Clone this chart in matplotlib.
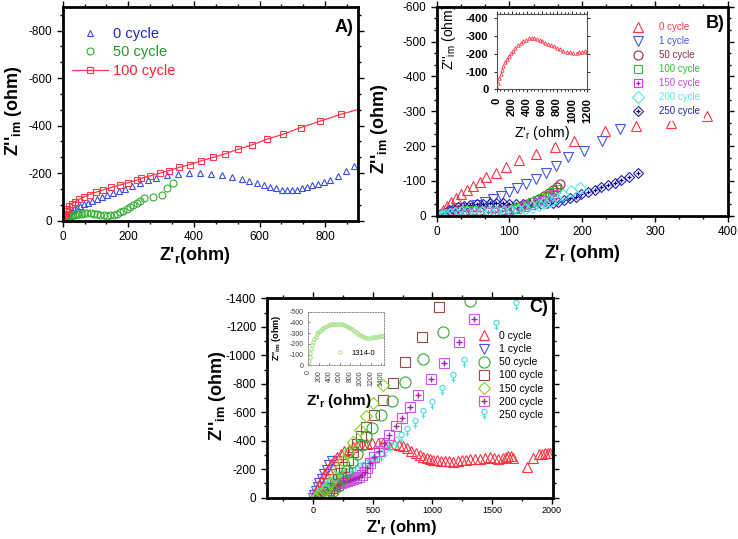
import matplotlib
matplotlib.use('Agg')
import matplotlib.pyplot as plt
from matplotlib.ticker import AutoMinorLocator, MultipleLocator
from matplotlib.path import Path

plt.rcParams['font.family'] = ['Liberation Sans', 'DejaVu Sans']
plt.rcParams['mathtext.fontset'] = 'custom'
plt.rcParams['mathtext.rm'] = 'Liberation Sans'
plt.rcParams['mathtext.bf'] = 'Liberation Sans:bold'
plt.rcParams['mathtext.it'] = 'Liberation Sans:italic'
plt.rcParams['axes.unicode_minus'] = False

# ---------------- panel A data ----------------
a_x0 = [2, 5, 9, 14, 20, 27, 35, 44, 54, 65, 77, 90, 104, 119, 135, 152, 170, 190, 212, 236,
        260, 284, 318, 350, 384, 417, 451, 485, 517, 545, 569, 592, 613, 632, 650, 668, 684, 699,
        713, 728, 744, 760, 777, 795, 816, 838, 862, 888]
a_y0 = [0, -8, -16, -24, -32, -40, -48, -55, -62, -69, -76, -84, -92, -100, -108, -116, -124, -134,
        -146, -158, -170, -181, -193, -197, -200, -201, -198, -191, -183, -175, -166, -158, -151,
        -142, -137, -131, -128, -128, -131, -137, -142, -149, -156, -163, -172, -186, -208, -231]
a_x50 = [8, 12, 16, 20, 25, 30, 36, 42, 50, 58, 66, 75, 85, 95, 105, 115, 125, 135, 145, 155,
         165, 175, 185, 195, 205, 215, 225, 235, 248, 276, 304, 317, 335]
a_y50 = [0, -5, -10, -14, -18, -22, -25, -27, -29, -30, -31, -31, -31, -30, -28, -25, -22, -21,
         -22, -25, -30, -36, -42, -49, -57, -65, -73, -82, -97, -101, -108, -136, -157]
a_x100 = [0, 2, 4, 6, 9, 13, 19, 27, 37, 50, 65, 82, 102, 124, 148, 174, 200, 225, 240, 267,
          296, 324, 354, 387, 420, 458, 494, 535, 577, 623, 672, 726, 785, 847, 910]
a_y100 = [0, -10, -20, -30, -40, -50, -60, -70, -80, -90, -100, -110, -120, -130, -140, -150,
          -160, -170, -179, -189, -200, -211, -224, -236, -251, -266, -281, -301, -319, -343,
          -364, -392, -419, -447, -472]

# ---------------- panel B data ----------------
b_x0 = [0, 4, 9, 14, 20, 27, 34, 42, 50, 59, 68, 81, 95, 113, 137, 163, 189, 232, 274, 322, 371]
b_y0 = [0, -5, -15, -27, -38, -50, -62, -74, -85, -98, -110, -123, -139, -160, -177, -198, -215,
        -244, -258, -267, -286]
b_x1 = [3, 6, 11, 20, 32, 43, 55, 66, 78, 89, 100, 111, 123, 137, 150, 164, 180, 202, 227, 252]
b_y1 = [0, -1, -3, -7, -14, -21, -30, -38, -47, -57, -67, -79, -91, -105, -122, -143, -168, -186,
        -215, -248]
b_x50 = [6, 10, 15, 22, 30, 40, 50, 60, 70, 80, 90, 100, 108, 116, 124, 132, 140, 147, 154, 160,
         165, 169]
b_y50 = [-2, -6, -10, -13, -15, -16, -16, -15, -14, -14, -15, -18, -22, -27, -33, -40, -48, -56,
         -65, -74, -83, -91]
b_x100 = [6, 10, 15, 22, 30, 40, 50, 60, 70, 80, 90, 100, 108, 116, 124, 131, 138, 145, 152, 158, 164]
b_y100 = [-1, -5, -9, -12, -14, -15, -15, -14, -13, -13, -14, -17, -21, -26, -32, -38, -45, -52,
          -60, -68, -77]
b_x150 = [6, 10, 15, 22, 30, 40, 50, 60, 70, 80, 90, 100, 110, 120, 129, 138, 146, 154, 161]
b_y150 = [0, -4, -8, -11, -13, -14, -14, -13, -12, -12, -13, -16, -20, -25, -31, -38, -45, -53, -61]
b_x200 = [4, 7, 12, 18, 25, 33, 42, 52, 62, 72, 82, 92, 102, 112, 122, 131, 140, 148, 156, 164,
          174, 185, 197]
b_y200 = [4, 2, -2, -6, -9, -11, -12, -12, -11, -10, -10, -11, -13, -16, -20, -25, -30, -36, -42,
          -50, -60, -70, -79]
b_x250 = [8, 12, 17, 23, 30, 38, 46, 55, 64, 73, 82, 91, 100, 109, 118, 127, 136, 144, 152, 160,
          167, 175, 183, 191, 199, 208, 217, 226, 236, 245, 254, 264, 277]
b_y250 = [-3, -9, -15, -20, -25, -29, -32, -34, -35, -36, -36, -36, -35, -35, -34, -34, -34, -35,
          -36, -37, -40, -45, -50, -55, -61, -67, -74, -81, -88, -95, -102, -112, -123]
# inset of B
bi_x = [0, 9, 22, 35, 53, 71, 88, 110, 132, 159, 185, 212, 247, 283, 318, 353, 389, 424, 464, 499,
        534, 570, 605, 640, 680, 720, 759, 799, 839, 883, 927, 971, 1015, 1060, 1095, 1130, 1166, 1192]
bi_y = [0, -6, -34, -62, -87, -109, -132, -153, -172, -189, -204, -219, -234, -249, -264, -274,
        -281, -287, -289, -287, -283, -277, -272, -264, -257, -249, -242, -234, -226, -219, -213,
        -209, -206, -206, -209, -213, -217, -213]

# ---------------- panel C data ----------------
c_x0 = [0, 8, 18, 30, 45, 62, 80, 100, 122, 146, 172, 200, 230, 262, 296, 332, 370, 410, 452, 496,
        540, 585, 630, 675, 716, 750, 784, 824, 862, 893, 923, 951, 979, 1007, 1035, 1070, 1105,
        1140, 1175, 1210, 1245, 1280, 1315, 1357, 1399, 1441, 1483, 1518, 1553, 1595, 1620, 1637,
        1655, 1672, 1791, 1847, 1897, 1922, 1945, 1967, 1987]
c_y0 = [0, -15, -35, -58, -85, -115, -145, -175, -205, -235, -262, -287, -308, -327, -343, -356,
        -367, -375, -380, -383, -385, -383, -378, -374, -370, -362, -351, -331, -312, -300, -288,
        -278, -269, -267, -265, -261, -258, -255, -253, -255, -265, -263, -269, -272, -274, -280,
        -288, -281, -274, -277, -288, -290, -292, -280, -218, -276, -306, -310, -311, -313, -316]
c_x1 = [0, 10, 22, 36, 52, 70, 90, 112, 135, 158]
c_y1 = [0, -20, -45, -72, -102, -133, -165, -197, -228, -255]
c_x50 = [45, 85, 125, 165, 205, 245, 285, 325, 365, 405, 445, 492, 566, 661, 772, 918, 1091, 1312]
c_y50 = [0, -3, -15, -45, -85, -135, -190, -250, -310, -370, -430, -492, -578, -681, -811, -972,
         -1160, -1380]
c_x100 = [30, 55, 80, 105, 130, 155, 180, 205, 232, 262, 295, 330, 365, 400, 443, 506, 582, 665,
          771, 913, 1057]
c_y100 = [0, -2, -8, -20, -40, -65, -95, -130, -170, -215, -265, -320, -375, -430, -495, -580,
          -686, -803, -955, -1130, -1341]
c_x150 = [15, 40, 70, 105, 140, 175, 212, 252, 294, 337, 392, 444, 498, 582]
c_y150 = [0, -10, -30, -60, -100, -145, -200, -260, -324, -394, -475, -571, -666, -794]
c_x200 = [10, 30, 55, 80, 105, 130, 155, 180, 205, 230, 255, 280, 305, 330, 355, 380, 405, 430,
          455, 480, 510, 548, 593, 638, 695, 745, 808, 881, 987, 1098, 1221, 1349]
c_y200 = [0, -3, -12, -25, -40, -55, -70, -82, -92, -100, -108, -115, -122, -128, -135, -145,
          -160, -180, -210, -245, -285, -330, -384, -438, -500, -560, -639, -721, -836, -947,
          -1092, -1252]
c_x250 = [10, 28, 49, 70, 91, 112, 133, 154, 175, 196, 224, 252, 280, 308, 336, 364, 392, 420,
          448, 476, 504, 532, 565, 600, 646, 692, 734, 790, 853, 923, 993, 1081, 1172, 1262,
          1532, 1699]
c_y250 = [-5, -19, -30, -42, -60, -77, -95, -112, -127, -140, -150, -159, -167, -175, -184, -194,
          -206, -218, -229, -241, -258, -277, -295, -320, -355, -390, -425, -470, -525, -592,
          -657, -753, -845, -955, -1212, -1353]
# inset of C
ci_x = [0, 10, 22, 36, 52, 70, 90, 112, 136, 162, 190, 220, 252, 286, 322, 360, 400, 440, 480,
        520, 560, 600, 640, 680, 720, 760, 800, 840, 880, 920, 960, 1000, 1040, 1080, 1120, 1160,
        1200, 1240, 1280, 1320, 1360, 1400, 1440]
ci_y = [0, -40, -80, -118, -153, -185, -215, -242, -266, -288, -307, -323, -337, -349, -359, -368,
        -375, -381, -385, -388, -389, -388, -385, -380, -371, -361, -349, -336, -322, -308, -294,
        -282, -272, -264, -258, -256, -257, -261, -265, -268, -270, -272, -274]

labels_a = ['0 cycle', '50 cycle', '100 cycle']
labels_b = ['0 cycle', '1 cycle', '50 cycle', '100 cycle', '150 cycle', '200 cycle', '250 cycle']

# venus-like marker for the 250 cycle series in C
circ = Path.unit_circle()
verts = [(0.45 * x, 0.45 * y + 0.45) for x, y in circ.vertices]
codes = list(circ.codes)
verts += [(0, 0), (0, -0.9), (-0.35, -0.45), (0.35, -0.45)]
codes += [Path.MOVETO, Path.LINETO, Path.MOVETO, Path.LINETO]
venus = Path(verts, codes)

YLAB = "Z''$_{\\mathbf{im}}$ (ohm)"


def style(ax, size=8.5):
    for s in ax.spines.values():
        s.set_linewidth(2)
    ax.tick_params(which='both', direction='out', top=True, right=True, labelsize=size, width=1)
    ax.tick_params(which='major', length=4)
    ax.tick_params(which='minor', length=2.5)


def op(ax, x, y, m, c, ms, **kw):
    return ax.plot(x, y, ls='none', marker=m, mfc='none', mec=c, ms=ms, mew=0.8, **kw)[0]


fig = plt.figure(figsize=(7.38, 5.39), dpi=100)

# ================= A =================
ax = fig.add_axes([0.085, 0.5905, 0.4001, 0.397])
blue, green, red = '#3a4ee0', '#2eae2e', '#ff3a4c'
ha0 = op(ax, a_x0, a_y0, '^', blue, 5)
ha50 = op(ax, a_x50, a_y50, 'o', green, 5)
ha100 = ax.plot(a_x100, a_y100, '-s', color=red, mfc='none', mec=red, ms=5, mew=0.8, lw=0.9)[0]
ax.set_xlim(0, 900)
ax.set_ylim(0, -900)
ax.xaxis.set_major_locator(MultipleLocator(200))
ax.yaxis.set_major_locator(MultipleLocator(200))
ax.xaxis.set_minor_locator(AutoMinorLocator(3))
ax.yaxis.set_minor_locator(AutoMinorLocator(3))
style(ax)
ax.set_xlabel("Z'$_{\\mathbf{r}}$(ohm)", fontsize=13, fontweight='bold')
ax.set_ylabel(YLAB, fontsize=13, fontweight='bold')
ax.xaxis.set_label_coords(0.448, -0.115)
ax.yaxis.set_label_coords(-0.132, 0.517)
ax.text(0.983, 0.905, 'A)', transform=ax.transAxes, ha='right', va='center',
        fontsize=13, fontweight='bold')
ax.legend([ha0, ha50, ha100], labels_a, loc='upper left', bbox_to_anchor=(0.031, 0.905),
          borderaxespad=0, borderpad=0, frameon=False, fontsize=10.5, handlelength=2.5,
          handletextpad=0.35, labelspacing=0.3, labelcolor=['#2222cc', '#229922', '#ff2233'])

# ================= B =================
bx = fig.add_axes([0.5917, 0.5998, 0.3943, 0.3878])
cb = ['#ff3344', '#4455e6', '#8b2f3f', '#33bb33', '#cc44dd', '#55eedd', '#2222aa']
hb0 = op(bx, b_x0, b_y0, '^', cb[0], 7)
hb1 = op(bx, b_x1, b_y1, 'v', cb[1], 7)
hb250 = op(bx, b_x250, b_y250, 'D', cb[6], 5.5)
hb250p = bx.plot(b_x250, b_y250, ls='none', marker='+', color='#000088', ms=3.5, mew=0.9)[0]
hb50 = op(bx, b_x50, b_y50, 'o', cb[2], 6.5)
hb100 = op(bx, b_x100, b_y100, 's', cb[3], 6)
hb150 = op(bx, b_x150, b_y150, 's', cb[4], 6)
hb150p = bx.plot(b_x150, b_y150, ls='none', marker='+', color='#992299', ms=3.5, mew=0.9)[0]
hb200 = op(bx, b_x200, b_y200, 'D', cb[5], 6)
bx.set_xlim(0, 400)
bx.set_ylim(0, -600)
bx.xaxis.set_major_locator(MultipleLocator(100))
bx.yaxis.set_major_locator(MultipleLocator(100))
bx.xaxis.set_minor_locator(AutoMinorLocator(3))
bx.yaxis.set_minor_locator(AutoMinorLocator(3))
style(bx)
bx.set_xlabel("Z'$_{\\mathbf{r}}$ (ohm)", fontsize=13, fontweight='bold')
bx.set_ylabel(YLAB, fontsize=13, fontweight='bold')
bx.xaxis.set_label_coords(0.5, -0.13)
bx.yaxis.set_label_coords(-0.16, 0.415)
bx.text(0.989, 0.92, 'B)', transform=bx.transAxes, ha='right', va='center',
        fontsize=13, fontweight='bold')
bx.legend([hb0, hb1, hb50, hb100, (hb150, hb150p), hb200, (hb250, hb250p)], labels_b,
          loc='upper left', bbox_to_anchor=(0.6505, 0.948), borderaxespad=0, borderpad=0.45,
          frameon=True, facecolor='white', edgecolor='none', framealpha=1, fancybox=False,
          fontsize=7, handlelength=1.6, handletextpad=1.3, labelspacing=0.42, labelcolor=cb)

# inset of B
bi = fig.add_axes([0.673, 0.8343, 0.1228, 0.1397])
bi.plot(bi_x, bi_y, ls='none', marker='^', mfc='none', mec='#ff3344', ms=2.5, mew=0.6)
bi.set_xlim(0, 1200)
bi.set_ylim(0, -425)
bi.xaxis.set_major_locator(MultipleLocator(200))
bi.yaxis.set_major_locator(MultipleLocator(100))
bi.xaxis.set_minor_locator(AutoMinorLocator(4))
for s in bi.spines.values():
    s.set_linewidth(0.8)
    s.set_color('#555555')
bi.tick_params(which='both', direction='out', top=True, right=True, labelsize=8, width=0.6)
bi.tick_params(which='major', length=2.5)
bi.tick_params(which='minor', length=1.5)
bi.tick_params(axis='x', labelrotation=90)
for t in bi.get_xticklabels() + bi.get_yticklabels():
    t.set_fontweight('bold')
bi.set_xlabel("Z'$_{\\rm r}$ (ohm)", fontsize=10)
bi.set_ylabel("Z''$_{\\rm im}$ (ohm)", fontsize=10)
bi.xaxis.set_label_coords(0.5, -0.46)
bi.yaxis.set_label_coords(-0.43, 0.7)

# ================= C =================
cx = fig.add_axes([0.3614, 0.0766, 0.3875, 0.37])
cc = ['#ff3344', '#4455e6', '#33aa33', '#9b4a4a', '#77dd22', '#cc55ee', '#44dddd']
hc1 = op(cx, c_x1, c_y1, 'v', cc[1], 7)
hc0 = op(cx, c_x0, c_y0, '^', cc[0], 7)
hc250 = op(cx, c_x250, c_y250, venus, cc[6], 7.5)
hc200 = op(cx, c_x200, c_y200, 's', cc[5], 6.5)
hc200p = cx.plot(c_x200, c_y200, ls='none', marker='+', color='#aa22aa', ms=4, mew=1)[0]
hc100 = op(cx, c_x100, c_y100, 's', cc[3], 7)
hc50 = op(cx, c_x50, c_y50, 'o', cc[2], 8)
hc150 = op(cx, c_x150, c_y150, 'D', cc[4], 6.5)
cx.set_xlim(-390, 2008)
cx.set_ylim(0, -1400)
cx.xaxis.set_major_locator(MultipleLocator(500))
cx.xaxis.set_minor_locator(MultipleLocator(250))
cx.yaxis.set_major_locator(MultipleLocator(200))
cx.yaxis.set_minor_locator(AutoMinorLocator(2))
style(cx)
cx.tick_params(axis='x', labelsize=6.5, pad=2)
cx.set_xlabel("Z'$_{\\mathbf{r}}$ (ohm)", fontsize=12, fontweight='bold')
cx.set_ylabel(YLAB, fontsize=13, fontweight='bold')
cx.xaxis.set_label_coords(0.473, -0.1)
cx.yaxis.set_label_coords(-0.135, 0.51)
cx.text(0.984, 0.956, 'C)', transform=cx.transAxes, ha='right', va='center',
        fontsize=13, fontweight='bold')
cx.legend([hc0, hc1, hc50, hc100, hc150, (hc200, hc200p), hc250], labels_b,
          loc='upper left', bbox_to_anchor=(0.73, 0.841), borderaxespad=0, borderpad=0.1,
          frameon=True, facecolor='white', edgecolor='none', framealpha=1, fancybox=False,
          fontsize=7.5, handlelength=1.5, handletextpad=0.67, labelspacing=0.3)

# inset of C
ci = fig.add_axes([0.418, 0.3223, 0.1023, 0.0994])
hci = ci.plot(ci_x, ci_y, ls='none', marker='o', mfc='none', mec='#99dd77', ms=2.5, mew=0.6)[0]
ci.set_xlim(0, 1460)
ci.set_ylim(0, -500)
ci.xaxis.set_major_locator(MultipleLocator(200))
ci.yaxis.set_major_locator(MultipleLocator(100))
for s in ci.spines.values():
    s.set_linewidth(0.7)
    s.set_color('#888888')
    s.set_linestyle(':')
ci.tick_params(which='both', direction='in', labelsize=5, width=0.5, length=1.5, colors='#444444')
ci.tick_params(axis='x', labelrotation=90)
ci.set_xlabel("Z'$_{\\mathbf{r}}$ (ohm)", fontsize=11, fontweight='bold')
ci.set_ylabel("Z''$_{\\mathbf{im}}$ (ohm)", fontsize=6.5, fontweight='bold')
ci.xaxis.set_label_coords(0.4, -0.5)
ci.yaxis.set_label_coords(-0.34, 0.51)
ci.legend([hci], ['1314-0'], loc='center left', bbox_to_anchor=(0.367, 0.224), borderaxespad=0,
          borderpad=0, frameon=False, fontsize=5.5, handlelength=1.0, handletextpad=1.0)

fig.savefig('out.png', dpi=100)
